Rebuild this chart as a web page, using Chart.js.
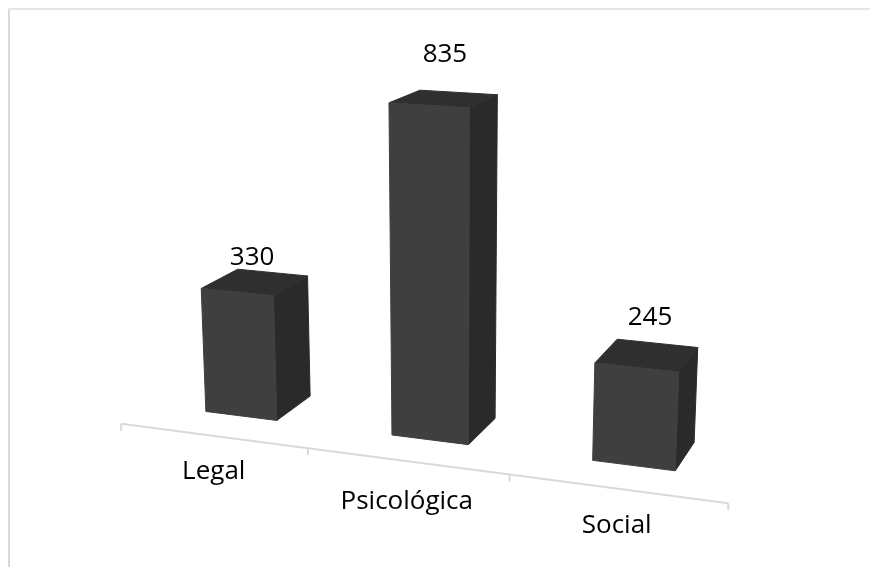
<!DOCTYPE html>
<html><head><meta charset="utf-8">
<style>html,body{margin:0;padding:0;background:#fff}canvas{display:block}</style>
<script src="https://cdn.jsdelivr.net/npm/chart.js@4/dist/chart.umd.min.js"></script>
</head><body><canvas id="c" width="870" height="567"></canvas>
<script>
const categories = ['Legal', 'Psicológica', 'Social'];
const values = [330, 835, 245];
const FONT = '26px "Open Sans"';

// Perspective camera: chart pixels (x, y) plus a depth z -> page pixels
const CAM = [540.11225, 26.6983, 47.61799, 134.08913, 24.20751, 407.70608, -8.31021, 20.93194, -0.1143, 0.05932, 0.04259];
const AXIS_Z = -0.765;
function project(x, y, z) {
  const X = x / 870, Y = y / 567, p = CAM;
  const d = p[8] * X + p[9] * Y + p[10] * z + 1;
  return [(p[0] * X + p[1] * Y + p[2] * z + p[3]) / d, (p[4] * X + p[5] * Y + p[6] * z + p[7]) / d];
}
function face(ctx, pts, fill) {
  ctx.beginPath();
  pts.forEach((q, i) => i ? ctx.lineTo(q[0], q[1]) : ctx.moveTo(q[0], q[1]));
  ctx.closePath();
  ctx.fillStyle = fill;
  ctx.strokeStyle = fill;
  ctx.lineWidth = 1;
  ctx.lineJoin = 'round';
  ctx.fill();
  ctx.stroke();
}
const scene = {
  id: 'scene',
  beforeDatasetsDraw(chart, args, o) {
    const { ctx, scales: { x: xs, y: ys } } = chart;
    ctx.save();
    // frame
    ctx.fillStyle = o.frameLeft; ctx.fillRect(8, 8, 2, 559);
    ctx.fillStyle = o.frameTop; ctx.fillRect(8, 8, 862, 2);
    // floor axis
    const base = ys.getPixelForValue(0);
    const edges = [xs.left];
    categories.forEach((_, i) => { if (i) edges.push((xs.getPixelForTick(i - 1) + xs.getPixelForTick(i)) / 2); });
    edges.push(xs.right);
    ctx.strokeStyle = o.axis; ctx.lineWidth = 2;
    ctx.beginPath();
    edges.forEach((e, i) => { const q = project(e, base, AXIS_Z); i ? ctx.lineTo(q[0], q[1]) : ctx.moveTo(q[0], q[1]); });
    ctx.stroke();
    edges.forEach(e => {
      const q = project(e, base, AXIS_Z);
      ctx.beginPath(); ctx.moveTo(q[0], q[1]); ctx.lineTo(q[0], q[1] + 7); ctx.stroke();
    });
    // tick labels
    ctx.font = FONT; ctx.fillStyle = '#000'; ctx.textAlign = 'center'; ctx.textBaseline = 'middle';
    categories.forEach((c, i) => {
      const q = project(xs.getPixelForTick(i), base, AXIS_Z);
      ctx.fillText(c, q[0] + o.tickShift[i][0], q[1] + o.tickShift[i][1]);
    });
    ctx.restore();
  },
  beforeDatasetDraw(chart, args, o) {
    const { ctx } = chart;
    ctx.save();
    chart.getDatasetMeta(args.index).data.forEach((bar, i) => {
      const L = bar.x - bar.width / 2, R = bar.x + bar.width / 2, T = bar.y, B = bar.base;
      const fTL = project(L, T, 0), fTR = project(R, T, 0), fBL = project(L, B, 0), fBR = project(R, B, 0);
      const bTL = project(L, T, 1), bTR = project(R, T, 1), bBR = project(R, B, 1);
      face(ctx, [fTR, bTR, bBR, fBR], o.side);
      face(ctx, [fTL, bTL, bTR, fTR], o.top);
      face(ctx, [fTL, fTR, fBR, fBL], o.front);
      const c = project(bar.x, T, 0.5);
      ctx.font = FONT; ctx.fillStyle = '#000'; ctx.textAlign = 'center'; ctx.textBaseline = 'middle';
      ctx.fillText(String(values[i]), c[0] + o.valueShift[i][0], c[1] + o.valueShift[i][1]);
    });
    ctx.restore();
    return false;
  }
};
new Chart(document.getElementById('c'), {
  type: 'bar',
  data: { labels: categories, datasets: [{ data: values, backgroundColor: '#3f3f3f', categoryPercentage: 1, barPercentage: 0.39 }] },
  options: {
    responsive: false, animation: false, devicePixelRatio: 1,
    layout: { padding: 0 },
    scales: {
      x: { display: false },
      y: { display: false, min: 0, max: 1000 }
    },
    plugins: {
      legend: { display: false }, tooltip: { enabled: false },
      scene: {
        front: '#3f3f3f', top: '#2f2f2f', side: '#2a2a2a',
        axis: '#d9d9d9', frameLeft: '#d9d9d9', frameTop: '#e6e6e6',
        tickShift: [[1, 36], [0, 40], [0, 37]],
        valueShift: [[-3, -25], [1, -44], [3, -38]]
      }
    }
  },
  plugins: [scene]
});
</script></body></html>
